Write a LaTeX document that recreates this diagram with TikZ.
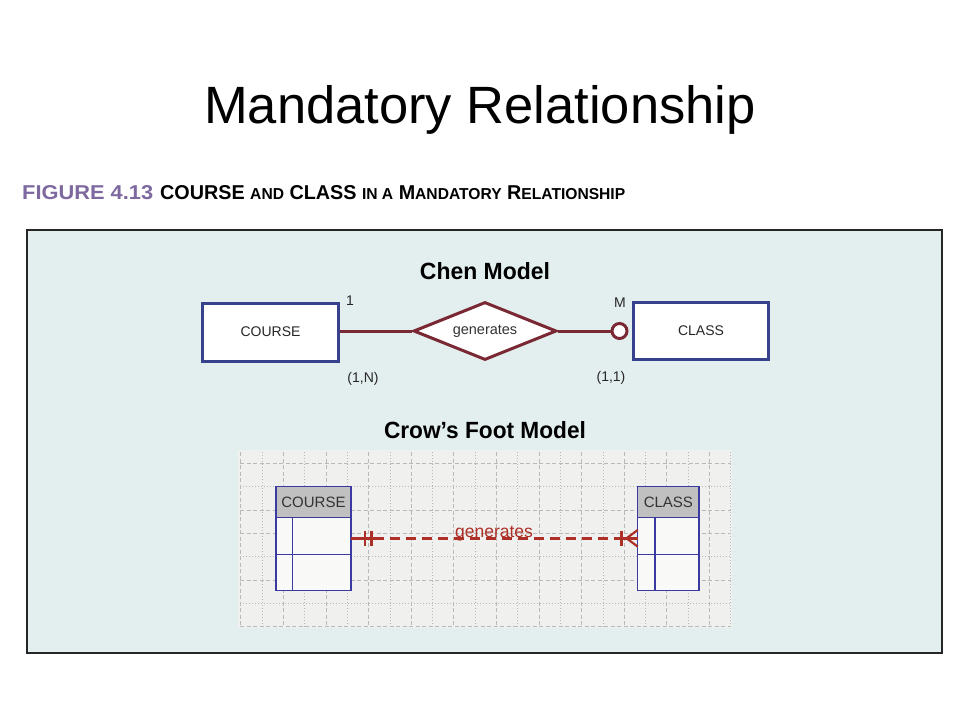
\documentclass[tikz,border=0pt]{standalone}
\usepackage{fontspec}
\setmainfont{Liberation Sans}
\usetikzlibrary{shapes.geometric}
\definecolor{panelbg}{RGB}{227,239,238}
\definecolor{gridbg}{RGB}{240,240,238}
\definecolor{gridln}{RGB}{185,185,185}
\definecolor{chenred}{RGB}{122,40,52}
\definecolor{chenblue}{RGB}{55,65,140}
\definecolor{crowred}{RGB}{172,48,40}
\definecolor{tblblue}{RGB}{58,58,160}
\definecolor{hdrgray}{RGB}{192,192,192}
\definecolor{figpurple}{RGB}{125,105,160}
\newcommand\mysc[1]{{\fontsize{7.9}{9}\selectfont #1}}
\begin{document}
\begin{tikzpicture}[x=1pt,y=-1pt,
  chenent/.style={draw=chenblue, line width=3pt, fill=white, inner sep=0pt,
    font=\fontsize{14}{16}\selectfont, text=black!85},
  chenrel/.style={diamond, aspect=2.43, draw=chenred, line width=3pt, fill=white, inner sep=0pt,
    minimum width=143pt, minimum height=58pt, font=\fontsize{14.5}{16}\selectfont, text=black!80},
  chenline/.style={draw=chenred, line width=3pt},
  chenlbl/.style={inner sep=0pt, font=\fontsize{14}{16}\selectfont, text=black!85},
  tblhdr/.style={draw=tblblue, line width=1.5pt, fill=hdrgray, inner sep=0pt,
    font=\fontsize{15}{17}\selectfont, text=black!80},
  tblbody/.style={draw=tblblue, line width=1.5pt, fill=white!60!gridbg, inner sep=0pt},
  tblline/.style={draw=tblblue, line width=1.5pt},
  crowline/.style={draw=crowred, line width=3pt},
  gdash/.style={draw=gridln, line width=0.6pt, dash pattern=on 4pt off 2.5pt},
  gdot/.style={draw=gridln, line width=0.6pt, dash pattern=on 1.2pt off 1.8pt}
]
\useasboundingbox (0,0) rectangle (960,720);
\fill[white] (0,0) rectangle (960,720);

% title
\node[anchor=base, inner sep=0pt] (title) at (480,123)
  {\fontsize{52.5}{60}\selectfont Mandatory Relationship};

% caption
\node[anchor=base west, inner sep=0pt, text=figpurple] (fig) at (22,199)
  {\resizebox{131pt}{14pt}{\bfseries FIGURE 4.13}};
\node[anchor=base west, inner sep=0pt] (cap) at (160,199)
  {\resizebox{465pt}{14pt}{\bfseries COURSE \mysc{AND} CLASS \mysc{IN A} M\mysc{ANDATORY} R\mysc{ELATIONSHIP}}};

% panel
\draw[fill=panelbg, draw=black!85, line width=2pt] (26.7,230) rectangle (941.7,653.3);

% ---------- Chen model ----------
\node[anchor=base, inner sep=0pt] (chen) at (485,279)
  {\resizebox{130pt}{17pt}{\bfseries Chen Model}};

\node[chenent, minimum width=136pt, minimum height=58pt] (course) at (270.5,332) {COURSE};
\node[chenent, minimum width=135pt, minimum height=57pt] (class) at (701,331) {CLASS};
\node[chenrel] (rel) at (485,331) {generates};
\node[circle, draw=chenred, line width=3pt, fill=white, minimum size=15pt, inner sep=0pt] (circ) at (619.5,331) {};

\draw[chenline] (course.east |- rel.west) -- (rel.west);
\draw[chenline] (rel.east) -- (circ.west);

\node[chenlbl] (one) at (350,301) {1};
\node[chenlbl] (m) at (620,303) {M};
\node[chenlbl] (cn) at (363,379) {(1,N)};
\node[chenlbl] (c11) at (611,378) {(1,1)};

% ---------- Crow's foot model ----------
\node[anchor=base, inner sep=0pt] (crow) at (485,438)
  {\resizebox{202pt}{17pt}{\bfseries Crow’s Foot Model}};

% grid
\fill[gridbg] (238,450) rectangle (732,628);
\foreach \k in {0,...,23} {
  \pgfmathsetmacro\gx{240.7+21.3*\k}
  \ifodd\k
    \draw[gdot] (\gx,452) -- (\gx,627);
  \else
    \draw[gdash] (\gx,452) -- (\gx,627);
  \fi
}
\foreach \y/\s in {463.3/gdash,486.7/gdot,510/gdash,533.3/gdash,556.7/gdot,580/gdash,603.3/gdot,626.7/gdash} {
  \draw[\s] (240,\y) -- (731,\y);
}

% COURSE table
\node[tblbody, minimum width=75pt, minimum height=73pt] (cbody) at (313.5,554.2) {};
\node[tblhdr, minimum width=75pt, minimum height=31pt] (chdr) at (313.5,502.2) {COURSE};
\draw[tblline] (cbody.west |- 0,554.3) -- (cbody.east |- 0,554.3);
\draw[tblline] (292.7,517.7) -- (292.7,590.7);

% CLASS table
\node[tblbody, minimum width=61.3pt, minimum height=73pt] (kbody) at (668.35,554.2) {};
\node[tblhdr, minimum width=61.3pt, minimum height=31pt] (khdr) at (668.35,502.2) {CLASS};
\draw[tblline] (kbody.west |- 0,554.3) -- (kbody.east |- 0,554.3);
\draw[tblline] (655,517.7) -- (655,590.7);

% relationship
\coordinate (rl) at (351,538.3);
\coordinate (rr) at (637.7,538.3);
\coordinate (rl2) at (374,538.3);
\coordinate (rr2) at (618,538.3);
\draw[crowline] (rl) -- (rl2);
\draw[crowline, dash pattern=on 10pt off 6pt] (rl2) -- (rr2);
\draw[crowline] (rr2) -- (rr);
% mandatory one (two bars)
\draw[crowline, line width=2.6pt] (365,530.8) -- (365,545.8);
\draw[crowline, line width=2.6pt] (371.5,530.8) -- (371.5,545.8);
% mandatory many (bar + crow's foot)
\draw[crowline, line width=2.6pt] (621.7,530.8) -- (621.7,545.8);
\draw[crowline, line width=2.2pt] (626.5,538.3) -- (rr |- 0,530);
\draw[crowline, line width=2.2pt] (626.5,538.3) -- (rr |- 0,546.6);

\node[anchor=base, inner sep=0pt, text=crowred, font=\fontsize{17.5}{19}\selectfont] (gen) at (494,537) {generates};
\end{tikzpicture}
\end{document}
